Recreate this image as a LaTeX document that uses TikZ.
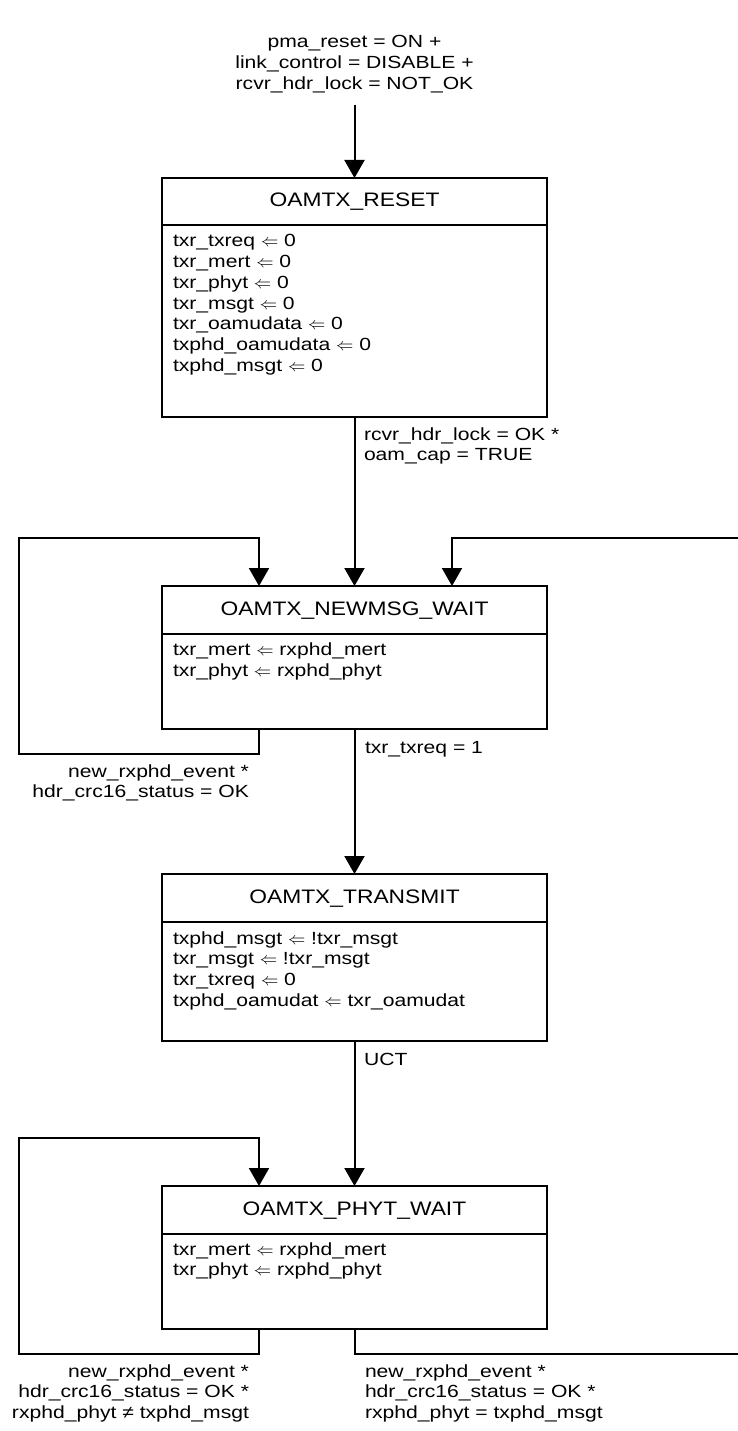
\documentclass[tikz,border=0pt]{standalone}
\usepackage{fontspec}
\setmainfont{Liberation Sans}[FakeStretch=1.2]
\newfontfamily\ttlfont{Liberation Sans}[FakeStretch=1.17]
\usetikzlibrary{arrows.meta}
\newcommand\txtL[1]{\begin{tabular}[t]{@{}l@{}}#1\end{tabular}}
\newcommand\txtR[1]{\begin{tabular}[t]{@{}r@{}}#1\end{tabular}}
\newcommand\txtC[1]{\begin{tabular}[t]{@{}c@{}}#1\end{tabular}}
\newcommand\asg{$\Leftarrow$}
\begin{document}
\begin{tikzpicture}[x=1pt,y=-1pt,
  every node/.style={inner sep=0pt,outer sep=0pt},
  wire/.style={line width=2pt},
  conn/.style={line width=2pt,-{Triangle[width=20pt,length=18pt]}},
  statebox/.style={draw,line width=2pt,minimum width=385pt,anchor=north west},
  titletext/.style={anchor=base,font=\ttlfont\fontsize{19.5}{23}\selectfont},
  bodytext/.style={anchor=base west,font=\fontsize{17.6}{20.7}\selectfont},
  lbl/.style={font=\fontsize{17.6}{20.7}\selectfont}]
\useasboundingbox (0,0) rectangle (738,1431);

% states
\node[statebox,minimum height=239pt] (reset) at (162,178) {};
\node[statebox,minimum height=143pt] (newmsg) at (162,586) {};
\node[statebox,minimum height=167pt] (transmit) at (162,874) {};
\node[statebox,minimum height=143pt] (phyt) at (162,1186) {};

% titles
\node[titletext] (resetT) at ([yshift=-29pt]reset.north) {OAMTX\_RESET};
\node[titletext] (newmsgT) at ([yshift=-29pt]newmsg.north) {OAMTX\_NEWMSG\_WAIT};
\node[titletext] (transmitT) at ([yshift=-29pt]transmit.north) {OAMTX\_TRANSMIT};
\node[titletext] (phytT) at ([yshift=-29pt]phyt.north) {OAMTX\_PHYT\_WAIT};

% dividers
\foreach \s in {reset,newmsg,transmit,phyt}{
  \draw[wire] ([yshift=-47.5pt]\s.north west) -- ([yshift=-47.5pt]\s.north east);
}

% bodies
\node[bodytext] (resetB) at ([xshift=11pt,yshift=-69pt]reset.north west) {\txtL{%
txr\_txreq \asg{} 0\\
txr\_mert \asg{} 0\\
txr\_phyt \asg{} 0\\
txr\_msgt \asg{} 0\\
txr\_oamudata \asg{} 0\\
txphd\_oamudata \asg{} 0\\
txphd\_msgt \asg{} 0}};
\node[bodytext] (newmsgB) at ([xshift=11pt,yshift=-69.5pt]newmsg.north west) {\txtL{%
txr\_mert \asg{} rxphd\_mert\\
txr\_phyt \asg{} rxphd\_phyt}};
\node[bodytext] (transmitB) at ([xshift=11pt,yshift=-70pt]transmit.north west) {\txtL{%
txphd\_msgt \asg{} !txr\_msgt\\
txr\_msgt \asg{} !txr\_msgt\\
txr\_txreq \asg{} 0\\
txphd\_oamudat \asg{} txr\_oamudat}};
\node[bodytext] (phytB) at ([xshift=11pt,yshift=-69pt]phyt.north west) {\txtL{%
txr\_mert \asg{} rxphd\_mert\\
txr\_phyt \asg{} rxphd\_phyt}};

% entry
\coordinate (entry) at (354.5,105);
\node[lbl,anchor=base] (entryL) at (354.5,48) {\txtC{pma\_reset = ON +\\ link\_control = DISABLE +\\ rcvr\_hdr\_lock = NOT\_OK}};
\draw[conn] (entry) -- (reset.north);

% reset -> newmsg
\draw[conn] (reset.south) -- (newmsg.north);
\node[lbl,anchor=base west] (l1) at (364,440) {\txtL{rcvr\_hdr\_lock = OK *\\ oam\_cap = TRUE}};

% newmsg self loop
\draw[conn] ([xshift=97pt]newmsg.south west) -- ++(0,25) -- ++(-240,0) -- ++(0,-216) -- ++(240,0) -- ([xshift=97pt]newmsg.north west);
\node[lbl,anchor=base east] (l2) at (249,777) {\txtR{new\_rxphd\_event *\\ hdr\_crc16\_status = OK}};

% incoming from phyt (right)
\coordinate (rin) at (738,538);
\draw[conn] (rin) -| ([xshift=290pt]newmsg.north west);

% newmsg -> transmit
\draw[conn] (newmsg.south) -- (transmit.north);
\node[lbl,anchor=base west] (l3) at (365,753) {txr\_txreq = 1};

% transmit -> phyt
\draw[conn] (transmit.south) -- (phyt.north);
\node[lbl,anchor=base west] (l4) at (364,1065) {UCT};

% phyt self loop
\draw[conn] ([xshift=97pt]phyt.south west) -- ++(0,25) -- ++(-240,0) -- ++(0,-216) -- ++(240,0) -- ([xshift=97pt]phyt.north west);
\node[lbl,anchor=base east] (l5) at (249,1377) {\txtR{new\_rxphd\_event *\\ hdr\_crc16\_status = OK *\\ rxphd\_phyt ≠ txphd\_msgt}};

% phyt -> newmsg (right, outgoing)
\coordinate (rout) at (738,1354);
\draw[wire] (phyt.south) |- (rout);
\node[lbl,anchor=base west] (l6) at (365,1377) {\txtL{new\_rxphd\_event *\\ hdr\_crc16\_status = OK *\\ rxphd\_phyt = txphd\_msgt}};
\end{tikzpicture}
\end{document}
